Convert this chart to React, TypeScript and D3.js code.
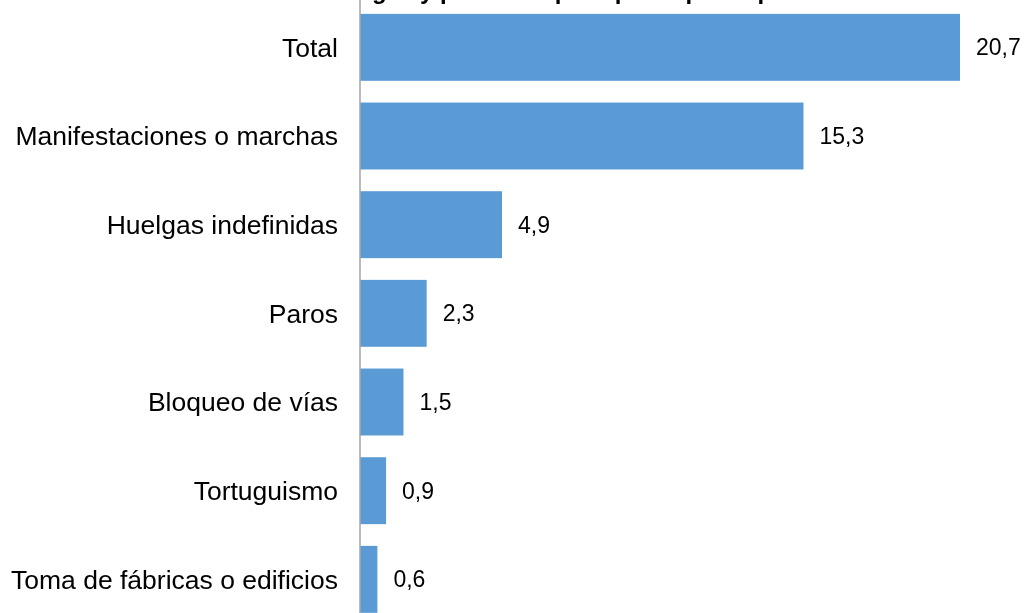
import React, { useEffect, useRef } from "react";
import * as d3 from "d3";

const categories = [
  "Total",
  "Manifestaciones o marchas",
  "Huelgas indefinidas",
  "Paros",
  "Bloqueo de vías",
  "Tortuguismo",
  "Toma de fábricas o edificios",
];
const values = [20.7, 15.3, 4.9, 2.3, 1.5, 0.9, 0.6];
const title = "Huelgas y protestas por tipo de participación";

const App = () => {
  const svgRef = useRef<SVGSVGElement>(null);

  useEffect(() => {
    const svg = d3.select(svgRef.current);
    svg.selectAll("*").remove();

    const width = 1026;
    const height = 613;
    const axisX = 360;

    const x = d3.scaleLinear().domain([0, 20.7]).range([axisX, 960]);
    const y = d3
      .scaleBand()
      .domain(categories)
      .range([3, 3 + 7 * 88.67])
      .paddingInner(0.245)
      .paddingOuter(0.1225);

    svg.attr("width", width).attr("height", height);

    const font = "'Liberation Sans', Arial, sans-serif";

    // title, cut off by the top edge like in the source
    svg
      .append("text")
      .attr("x", 320)
      .attr("y", -1)
      .attr("font-family", font)
      .attr("font-size", 24)
      .attr("font-weight", "bold")
      .text(title);

    // bars
    svg
      .append("g")
      .selectAll("rect")
      .data(values)
      .join("rect")
      .attr("x", x(0))
      .attr("y", (d, i) => y(categories[i])!)
      .attr("width", (d) => x(d) - x(0))
      .attr("height", y.bandwidth())
      .attr("fill", "#5b9bd5");

    // axis line
    svg
      .append("line")
      .attr("x1", axisX)
      .attr("x2", axisX)
      .attr("y1", 0)
      .attr("y2", height)
      .attr("stroke", "#a6a6a6")
      .attr("stroke-width", 1.5);

    // category labels
    svg
      .append("g")
      .selectAll("text")
      .data(categories)
      .join("text")
      .attr("x", 338)
      .attr("y", (d) => y(d)! + y.bandwidth() / 2)
      .attr("dy", "0.35em")
      .attr("text-anchor", "end")
      .attr("font-family", font)
      .attr("font-size", 26.5)
      .attr("fill", "#000")
      .text((d) => d);

    // value labels
    svg
      .append("g")
      .selectAll("text")
      .data(values)
      .join("text")
      .attr("x", (d) => x(d) + 16)
      .attr("y", (d, i) => y(categories[i])! + y.bandwidth() / 2)
      .attr("dy", "0.35em")
      .attr("font-family", font)
      .attr("font-size", 23)
      .attr("fill", "#000")
      .text((d) => d3.format(".1f")(d).replace(".", ","));
  }, []);

  return (
    <div style={{ position: "fixed", left: 0, top: 0 }}>
      <svg ref={svgRef} style={{ display: "block", overflow: "hidden" }} />
    </div>
  );
};

export default App;
